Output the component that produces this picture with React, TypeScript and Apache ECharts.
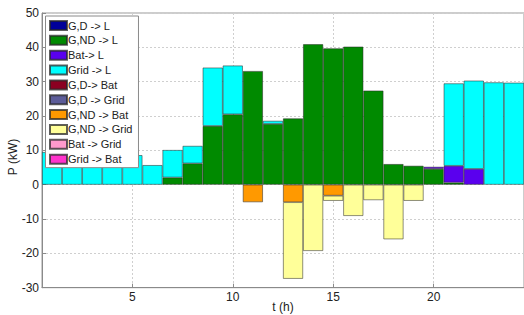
import React, { useEffect, useRef } from "react";
import * as echarts from "echarts";

const hours = Array.from({ length: 24 }, (_, i) => String(i + 1));
const seriesNames = [
  "G,D -> L",
  "G,ND -> L",
  "Bat-> L",
  "Grid -> L",
  "G,D-> Bat",
  "G,D -> Grid",
  "G,ND -> Bat",
  "G,ND -> Grid",
  "Bat -> Grid",
  "Grid -> Bat",
];
const seriesColors = [
  "#000099",
  "#008a00",
  "#5a00ee",
  "#00ffff",
  "#8b0021",
  "#5c5c99",
  "#ff9900",
  "#ffff99",
  "#ff99cc",
  "#ff33cc",
];
// values per hour 1..24 (kW); 0 = no bar
const gdL = [0, 0, 0, 0, 0, 0, 0, 0, 0, 0, 0, 0, 0, 0, 0, 0, 0, 0, 0, 0, 0, 0, 0, 0];
const gndL = [0, 0, 0, 0, 0, 0, 2.1, 6.2, 17.1, 20.5, 33.1, 17.7, 19.3, 40.9, 39.7, 40.2, 27.4, 6.0, 5.5, 4.6, 0.6, 0, 0, 0];
const batL = [0, 0, 0, 0, 0, 0, 0, 0, 0, 0, 0, 0, 0, 0, 0, 0, 0, 0, 0, 0.6, 4.9, 4.6, 0, 0];
const gridL = [9.5, 9.8, 9.3, 9.4, 8.6, 5.7, 8.0, 5.1, 17.0, 14.2, 0, 0.9, 0, 0, 0, 0, 0, 0, 0, 0, 24.0, 25.7, 29.8, 29.7];
const gdBat = [0, 0, 0, 0, 0, 0, 0, 0, 0, 0, 0, 0, 0, 0, 0, 0, 0, 0, 0, 0, 0, 0, 0, 0];
const gdGrid = [0, 0, 0, 0, 0, 0, 0, 0, 0, 0, 0, 0, 0, 0, 0, 0, 0, 0, 0, 0, 0, 0, 0, 0];
const gndBat = [0, 0, 0, 0, 0, 0, 0, 0, 0, 0, -5.1, 0, -5.1, 0, -3.2, 0, 0, 0, 0, 0, 0, 0, 0, 0];
const gndGrid = [0, 0, 0, 0, 0, 0, 0, 0, 0, 0, 0, 0, -22.3, -19.3, -1.5, -9.1, -4.5, -15.9, -4.7, 0, 0, 0, 0, 0];
const batGrid = [0, 0, 0, 0, 0, 0, 0, 0, 0, 0, 0, 0, 0, 0, 0, 0, 0, 0, 0, 0, 0, 0, 0, 0];
const gridBat = [0, 0, 0, 0, 0, 0, 0, 0, 0, 0, 0, 0, 0, 0, 0, 0, 0, 0, 0, 0, 0, 0, 0, 0];
const seriesValues = [gdL, gndL, batL, gridL, gdBat, gdGrid, gndBat, gndGrid, batGrid, gridBat];

const yTicks = { min: -30, max: 50, step: 10 };
const xTicks = { min: 0.5, max: 24.5 };

export default function App() {
  const ref = useRef<HTMLDivElement>(null);
  useEffect(() => {
    if (!ref.current) return;
    const chart = echarts.init(ref.current, null, { renderer: "svg" });
    const font = "Liberation Sans, Arial, sans-serif";
    chart.setOption({
      animation: false,
      textStyle: { fontFamily: font },
      grid: {
        left: 42,
        right: -1,
        top: 13,
        bottom: 27.3,
        show: true,
        borderColor: "#9a9a9a",
        borderWidth: 1,
        backgroundColor: "transparent",
      },
      legend: {
        orient: "vertical",
        left: 45.5,
        top: 16,
        padding: [4, 6, 3, 3.5],
        backgroundColor: "#ffffff",
        borderColor: "#8a8a8a",
        borderWidth: 1,
        itemWidth: 17,
        itemHeight: 9,
        itemGap: 3.85,
        icon: "rect",
        selectedMode: false,
        data: seriesNames,
        textStyle: { fontSize: 11, color: "#222", fontFamily: font, lineHeight: 9, padding: [0, 0, 0, -4] },
      },
      xAxis: [
        {
          type: "category",
          data: hours,
          show: false,
          boundaryGap: true,
        },
        {
          type: "value",
          min: xTicks.min,
          max: xTicks.max,
          splitNumber: 5,
          position: "bottom",
          axisLine: { show: true, onZero: false, lineStyle: { color: "#8a8a8a" } },
          axisTick: { show: true, inside: true, length: 4, lineStyle: { color: "#8a8a8a" } },
          axisLabel: {
            showMinLabel: false,
            showMaxLabel: false,
            fontSize: 12,
            color: "#222",
            margin: 3,
            fontFamily: font,
          },
          splitLine: { show: true, lineStyle: { color: "#cfcfcf", type: [2, 2] } },
        },
      ],
      yAxis: {
        type: "value",
        min: yTicks.min,
        max: yTicks.max,
        interval: yTicks.step,
        axisLine: { show: true, lineStyle: { color: "#8a8a8a" } },
        axisTick: { show: true, inside: true, length: 4, lineStyle: { color: "#8a8a8a" } },
        axisLabel: { fontSize: 12, color: "#222", margin: 3, fontFamily: font },
        splitLine: { show: true, lineStyle: { color: "#cfcfcf", type: [2, 2] } },
      },
      graphic: [
        {
          type: "text",
          x: 13,
          y: 157,
          rotation: Math.PI / 2,
          style: {
            text: "P (kW)",
            fontSize: 12,
            fill: "#222",
            fontFamily: font,
            textAlign: "center",
            textVerticalAlign: "middle",
          },
        },
        {
          type: "text",
          x: 283,
          y: 307,
          style: {
            text: "t (h)",
            fontSize: 12,
            fill: "#222",
            fontFamily: font,
            textAlign: "center",
            textVerticalAlign: "middle",
          },
        },
      ],
      series: seriesNames.map((name, i) => ({
        name,
        type: "bar",
        xAxisIndex: 0,
        stack: "total",
        stackStrategy: "samesign",
        barWidth: "100%",
        barGap: "-100%",
        itemStyle: {
          color: seriesColors[i],
          borderColor: "rgba(40,40,40,0.75)",
          borderWidth: 0.7,
        },
        data: seriesValues[i].map((v) => (v === 0 ? "-" : v)),
      })),
    });
    return () => chart.dispose();
  }, []);
  return (
    <div
      ref={ref}
      style={{ position: "fixed", left: 0, top: 0, width: 524, height: 315, background: "#fff" }}
    />
  );
}
